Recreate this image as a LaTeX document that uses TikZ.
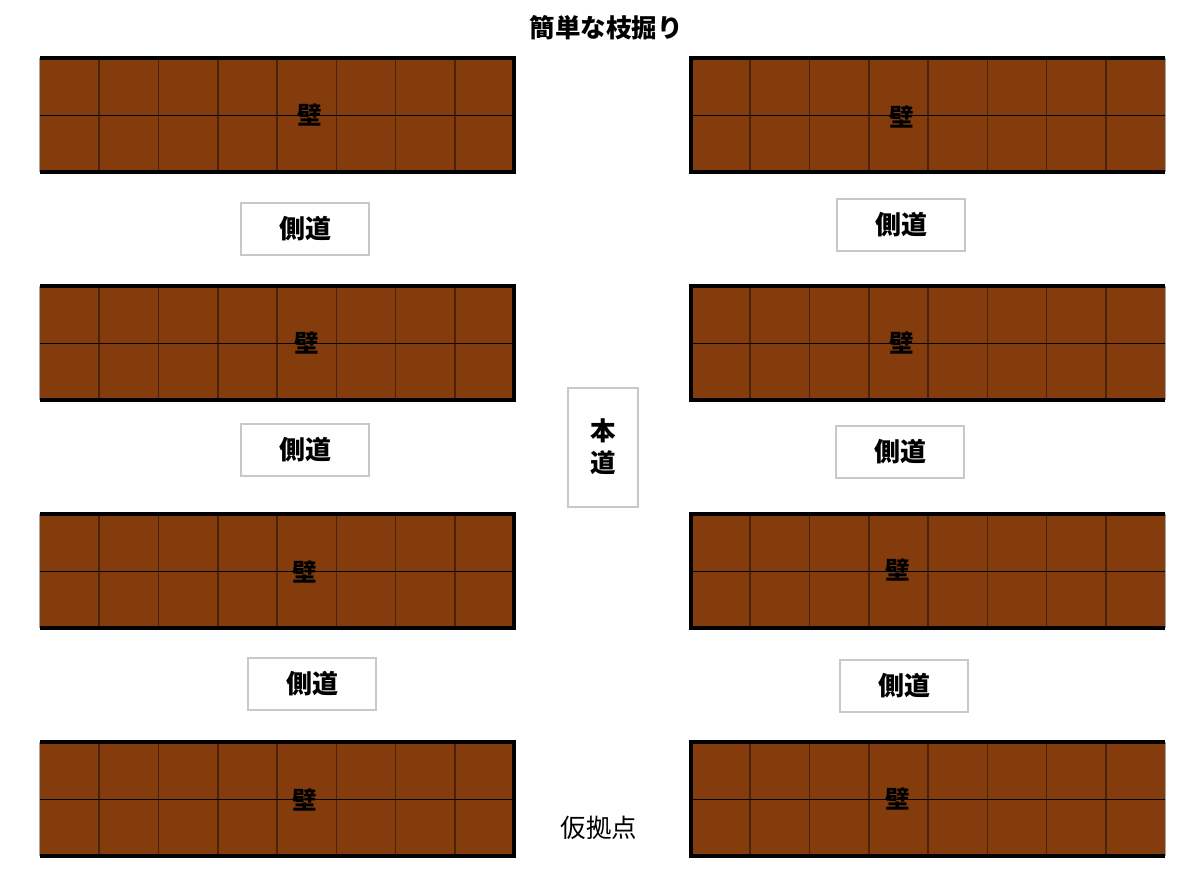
\documentclass[tikz,border=0pt]{standalone}
\usepackage{fontspec}
\setmainfont{Noto Sans CJK JP}
\usetikzlibrary{calc}
\definecolor{wallbrown}{HTML}{843C0C}
\definecolor{cellbrown}{HTML}{4A2208}
\definecolor{boxgray}{HTML}{C8C8C8}
\tikzset{
  wallbox/.style={rectangle, fill=wallbrown, inner sep=0pt, minimum width=474pt, minimum height=114pt},
  cellline/.style={draw=cellbrown, line width=1.6pt},
  midline/.style={draw=black, line width=1pt},
  thickedge/.style={draw=black, line width=4pt, line join=miter},
  outeredge/.style={draw=gray!70, line width=1pt},
  walllabel/.style={font=\fontsize{24.5}{28}\selectfont\bfseries, inner sep=0pt},
  roadbox/.style={rectangle, draw=boxgray, line width=2pt, fill=white, minimum width=128pt, minimum height=52pt, font=\fontsize{26}{30}\selectfont\bfseries, inner sep=0pt},
  mainroad/.style={rectangle, draw=boxgray, line width=2pt, fill=white, minimum width=70pt, minimum height=119pt, font=\fontsize{25.5}{32}\selectfont\bfseries, align=center, inner sep=0pt},
  plaintext/.style={font=\fontsize{25.5}{28}\selectfont, inner sep=0pt},
  titletext/.style={font=\fontsize{25.5}{28}\selectfont\bfseries, inner sep=0pt}
}
\begin{document}
\begin{tikzpicture}[x=1pt,y=-1pt]
\useasboundingbox (0,0) rectangle (1183,875);
% left walls
\foreach \i/\ya/\lx/\ly in {1/58/310/115, 2/286/307/343, 3/514/305/572, 4/742/305/800} {
  \node[wallbox] (L\i) at (277,\ya+57) {};
  \foreach \k in {1,...,7}
    \draw[cellline] ($(L\i.north west)!\k/8!(L\i.north east)$) -- ($(L\i.south west)!\k/8!(L\i.south east)$);
  \draw[midline] (L\i.west) -- (L\i.east);
  \draw[outeredge] (L\i.north west) -- (L\i.south west);
  \draw[thickedge] (L\i.north west) -- (L\i.north east) -- (L\i.south east) -- (L\i.south west);
  \node[walllabel] (Lt\i) at (\lx,\ly) {壁};
}
% right walls
\foreach \i/\ya/\lx/\ly in {1/58/902/117, 2/286/902/343, 3/514/898/570, 4/742/898/799} {
  \node[wallbox] (R\i) at (928,\ya+57) {};
  \foreach \k in {1,...,7}
    \draw[cellline] ($(R\i.north west)!\k/8!(R\i.north east)$) -- ($(R\i.south west)!\k/8!(R\i.south east)$);
  \draw[midline] (R\i.west) -- (R\i.east);
  \draw[outeredge] (R\i.north east) -- (R\i.south east);
  \draw[thickedge] (R\i.north east) -- (R\i.north west) -- (R\i.south west) -- (R\i.south east);
  \node[walllabel] (Rt\i) at (\lx,\ly) {壁};
}
% side roads
\node[roadbox] (sl1) at (305,229) {側道};
\node[roadbox] (sl2) at (305,450) {側道};
\node[roadbox] (sl3) at (312,684) {側道};
\node[roadbox] (sr1) at (901,225) {側道};
\node[roadbox] (sr2) at (900,452) {側道};
\node[roadbox] (sr3) at (904,686) {側道};
% main road
\node[mainroad] (main) at (603,447) {本\\道};
% texts
\node[titletext] (title) at (606,28) {簡単な枝掘り};
\node[plaintext] (base) at (599,828) {仮拠点};
\end{tikzpicture}
\end{document}
